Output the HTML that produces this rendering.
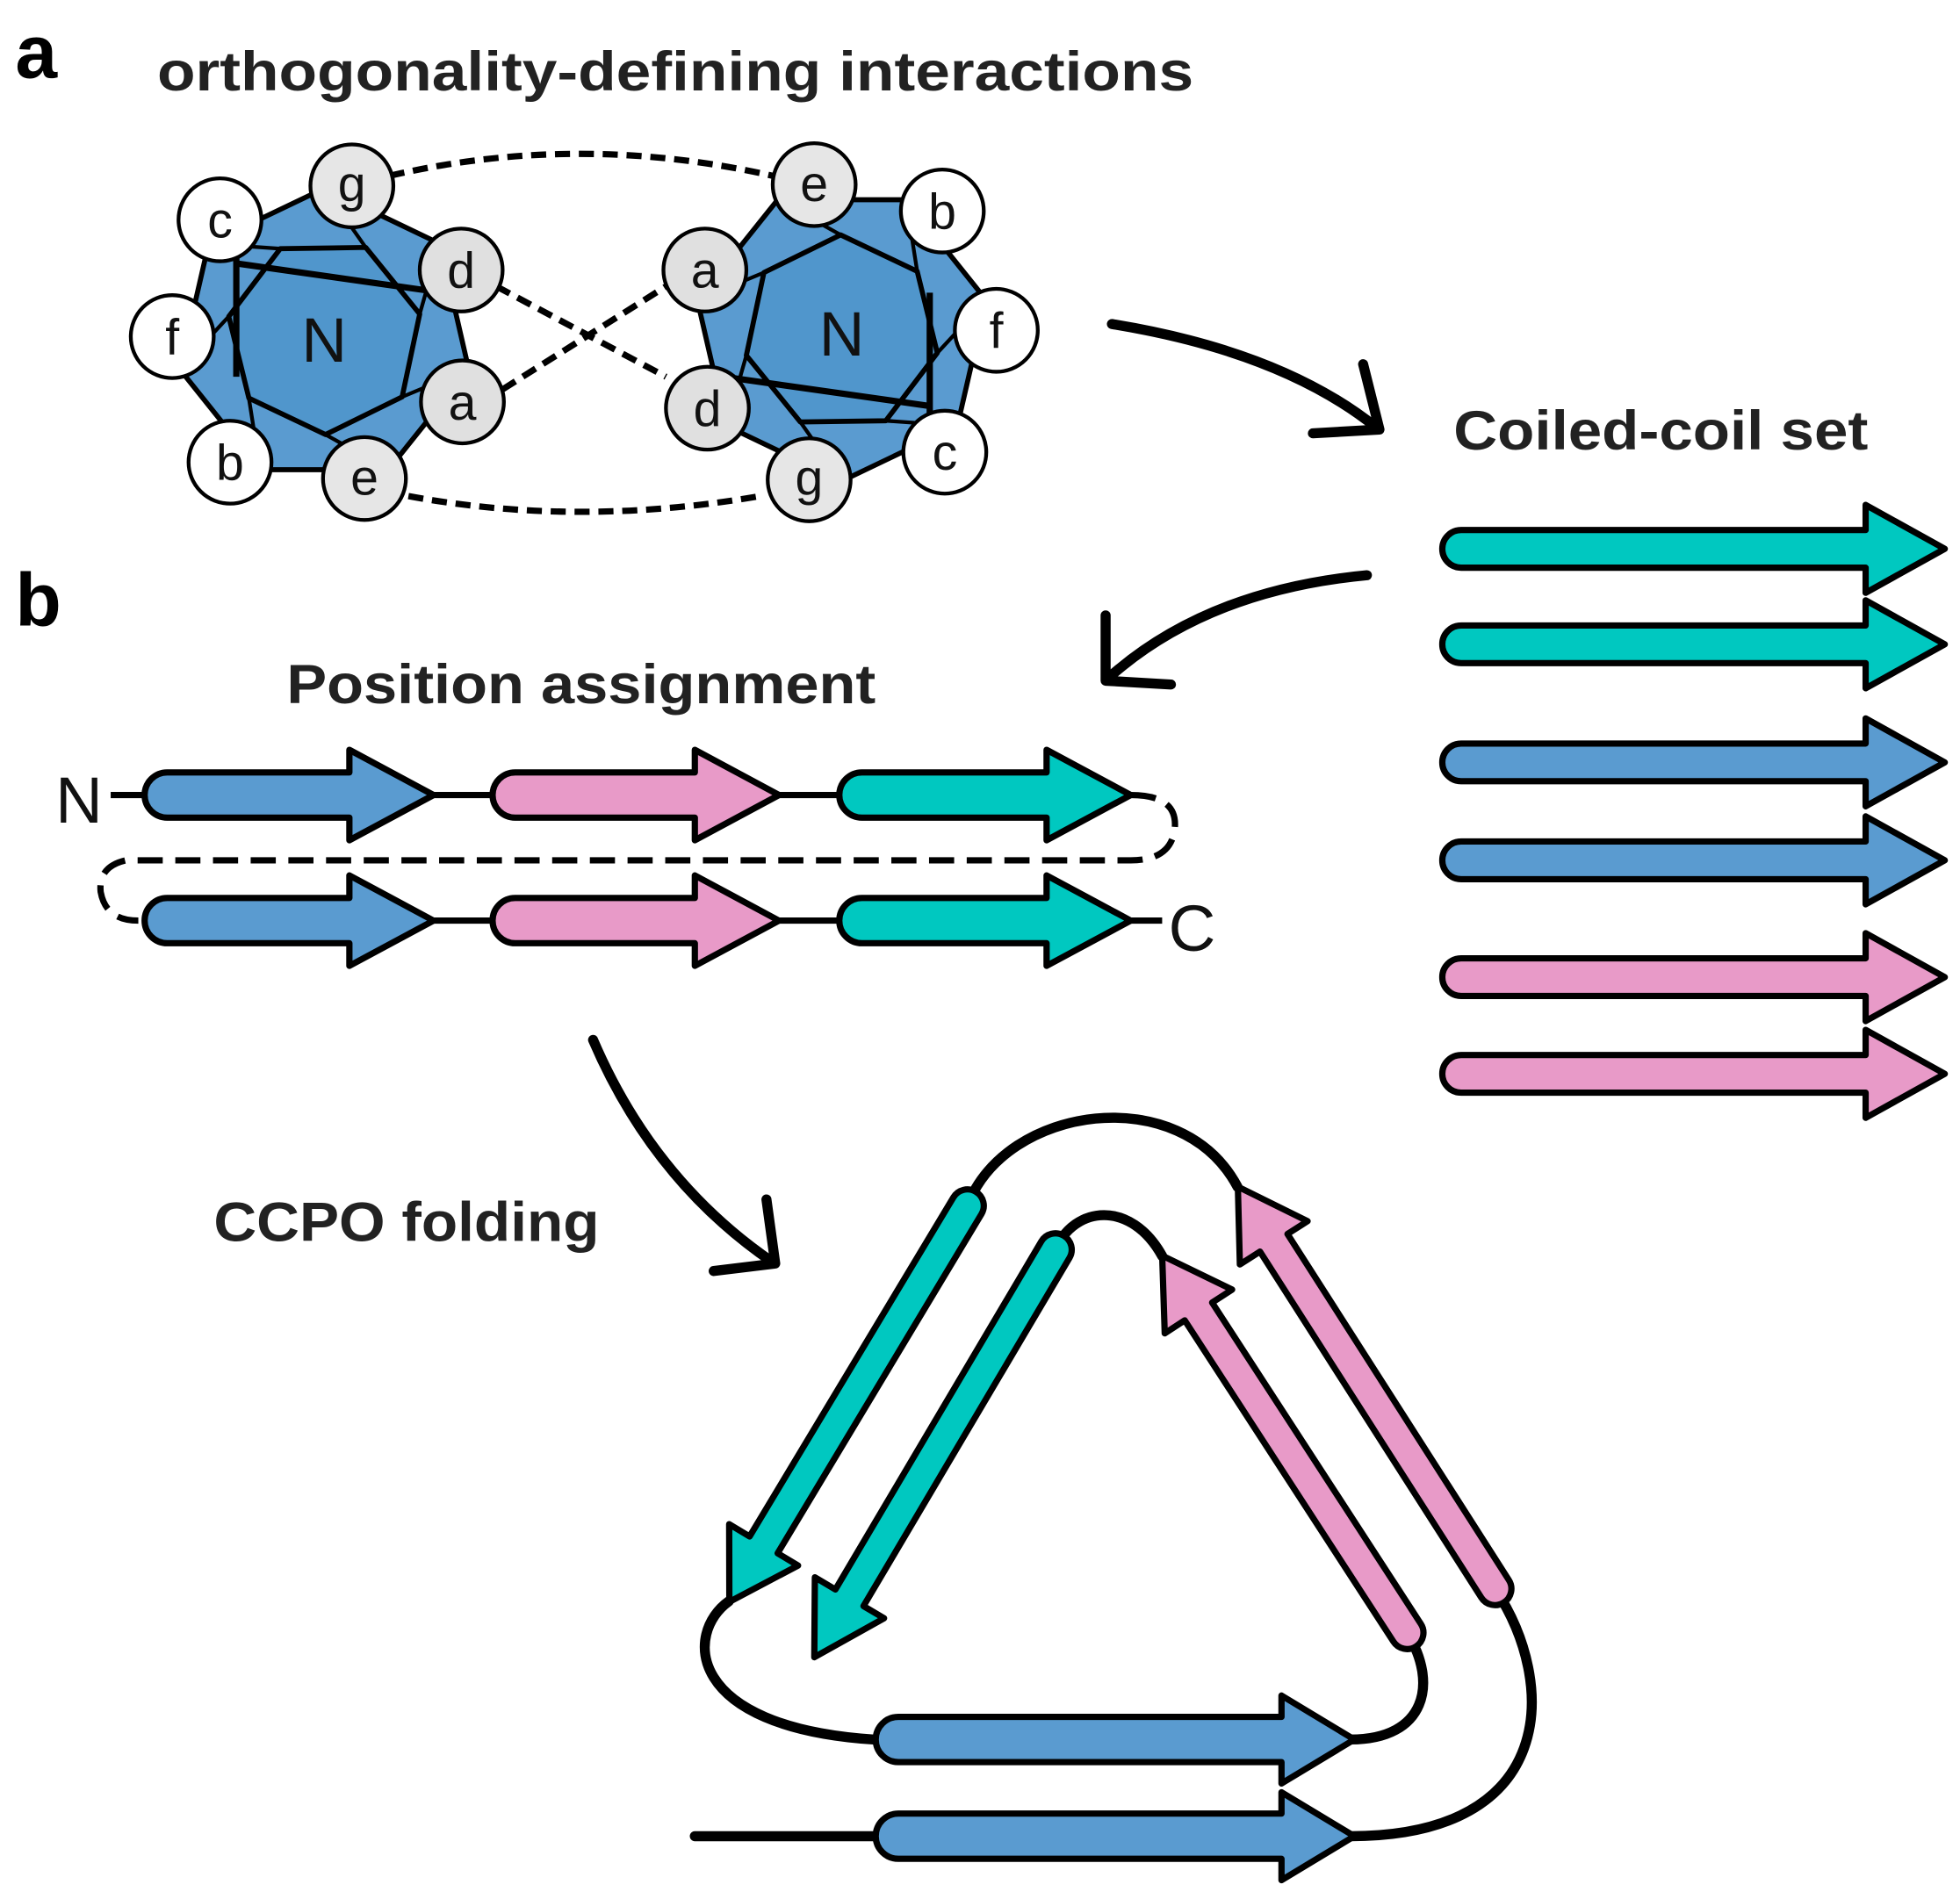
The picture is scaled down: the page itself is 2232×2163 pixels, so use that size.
<!DOCTYPE html>
<html><head><meta charset="utf-8"><style>
html,body{margin:0;padding:0;background:#fff;}
svg{display:block;}
text{font-family:"Liberation Sans","DejaVu Sans",sans-serif;}
</style></head><body>
<svg width="2232" height="2163" viewBox="0 0 1560 1512" xmlns="http://www.w3.org/2000/svg">
<text x="12" y="62" font-size="60" font-weight="bold">a</text>
<text x="12" y="498" font-size="60" font-weight="bold">b</text>
<g font-size="44" font-weight="bold" fill="#222" lengthAdjust="spacingAndGlyphs">
<text x="125" y="72" textLength="825" lengthAdjust="spacingAndGlyphs">orthogonality-defining interactions</text>
<text x="1157" y="358" textLength="330" lengthAdjust="spacingAndGlyphs">Coiled-coil set</text>
<text x="228" y="560" textLength="469" lengthAdjust="spacingAndGlyphs">Position assignment</text>
<text x="170" y="988" textLength="307" lengthAdjust="spacingAndGlyphs">CCPO folding</text>
</g>

<!-- dashed interactions -->
<g fill="none" stroke="#000" stroke-width="5" stroke-dasharray="12,7">
<path d="M310,140 Q460,105 615,140"/>
<path d="M325,395 Q460,420 605,395"/>
<path d="M395,228 L530,300"/>
<path d="M400,310 L530,228"/>
</g>

<!-- wheel body (left), reused rotated for right -->
<g id="wheel" stroke="#000" stroke-width="4" stroke-linejoin="round">
<polygon points="258,150 350,194 373,294 309,374 207,374 143,294 166,194" fill="#5a9bd0"/>
<polygon points="291,197 334,250 320,316 259,346 198,317 182,252 223,198" fill="#5096cc"/>
<g fill="none" stroke-width="3">
<line x1="291" y1="197" x2="258" y2="150"/><line x1="334" y1="250" x2="350" y2="194"/>
<line x1="320" y1="316" x2="373" y2="294"/><line x1="259" y1="346" x2="309" y2="374"/>
<line x1="198" y1="317" x2="207" y2="374"/><line x1="182" y1="252" x2="143" y2="294"/>
<line x1="223" y1="198" x2="166" y2="194"/>
</g>
<line x1="190" y1="210" x2="345" y2="232" stroke-width="5"/>
<line x1="188" y1="175" x2="188" y2="300" stroke-width="5"/>
</g>
<g transform="translate(928,533) rotate(180)">
<g stroke="#000" stroke-width="4" stroke-linejoin="round">
<polygon points="258,150 350,194 373,294 309,374 207,374 143,294 166,194" fill="#5a9bd0"/>
<polygon points="291,197 334,250 320,316 259,346 198,317 182,252 223,198" fill="#5096cc"/>
<g fill="none" stroke-width="3">
<line x1="291" y1="197" x2="258" y2="150"/><line x1="334" y1="250" x2="350" y2="194"/>
<line x1="320" y1="316" x2="373" y2="294"/><line x1="259" y1="346" x2="309" y2="374"/>
<line x1="198" y1="317" x2="207" y2="374"/><line x1="182" y1="252" x2="143" y2="294"/>
<line x1="223" y1="198" x2="166" y2="194"/>
</g>
<line x1="190" y1="210" x2="345" y2="232" stroke-width="5"/>
<line x1="188" y1="175" x2="188" y2="300" stroke-width="5"/>
</g>
</g>
<g stroke="#000" stroke-width="3">
<circle cx="175" cy="175" r="33" fill="#fff"/><circle cx="280" cy="148" r="33" fill="#e6e6e6"/>
<circle cx="367" cy="215" r="33" fill="#e0e0e0"/><circle cx="368" cy="320" r="33" fill="#e0e0e0"/>
<circle cx="290" cy="381" r="33" fill="#e6e6e6"/><circle cx="183" cy="368" r="33" fill="#fff"/>
<circle cx="137" cy="268" r="33" fill="#fff"/>
<circle cx="648" cy="147" r="33" fill="#e6e6e6"/><circle cx="750" cy="168" r="33" fill="#fff"/>
<circle cx="793" cy="263" r="33" fill="#fff"/><circle cx="752" cy="360" r="33" fill="#fff"/>
<circle cx="644" cy="382" r="33" fill="#e6e6e6"/><circle cx="563" cy="325" r="33" fill="#e0e0e0"/>
<circle cx="561" cy="215" r="33" fill="#e0e0e0"/>
</g>
<g font-size="40" text-anchor="middle" fill="#111">
<text x="175" y="189">c</text><text x="280" y="160">g</text><text x="367" y="229">d</text>
<text x="368" y="334">a</text><text x="290" y="394">e</text><text x="183" y="382">b</text>
<text x="137" y="282">f</text><text x="258" y="288" font-size="50">N</text>
<text x="648" y="160">e</text><text x="750" y="182">b</text><text x="793" y="277">f</text>
<text x="752" y="374">c</text><text x="644" y="394">g</text><text x="563" y="339">d</text>
<text x="561" y="229">a</text><text x="670" y="283" font-size="50">N</text>
</g>

<!-- curved arrows -->
<g fill="none" stroke="#000" stroke-width="8" stroke-linecap="round" stroke-linejoin="round">
<path d="M885,258 Q1020,280 1095,340"/><path d="M1085,290 L1098,342 L1045,345"/>
<path d="M1088,458 Q960,470 882,540"/><path d="M880,490 L880,542 L932,545"/>
<path d="M472,828 Q520,940 615,1005"/><path d="M610,955 L617,1006 L568,1012"/>
</g>

<!-- coiled-coil set -->
<g stroke="#000" stroke-width="5" stroke-linejoin="round">
<g fill="#00c8c0">
<path d="M1163,422 H1485 V402 L1548,437 L1485,472 V452 H1163 A15,15 0 0 1 1163,422 Z"/>
<path d="M1163,498 H1485 V478 L1548,513 L1485,548 V528 H1163 A15,15 0 0 1 1163,498 Z"/>
</g>
<g fill="#5a9bd0">
<path d="M1163,592 H1485 V572 L1548,607 L1485,642 V622 H1163 A15,15 0 0 1 1163,592 Z"/>
<path d="M1163,670 H1485 V650 L1548,685 L1485,720 V700 H1163 A15,15 0 0 1 1163,670 Z"/>
</g>
<g fill="#e89ac8">
<path d="M1163,763 H1485 V743 L1548,778 L1485,813 V793 H1163 A15,15 0 0 1 1163,763 Z"/>
<path d="M1163,840 H1485 V820 L1548,855 L1485,890 V870 H1163 A15,15 0 0 1 1163,840 Z"/>
</g>
</g>

<!-- position assignment -->
<g stroke="#000" stroke-width="5" fill="none">
<path d="M88,633 H115 M340,633 H395 M615,633 H670 M340,733 H395 M615,733 H670 M895,733 H925"/>
<path d="M900,633 Q938,633 935,660 Q932,685 900,685 H100 Q78,690 80,710 Q84,733 110,733" stroke-dasharray="20,10"/>
</g>
<g stroke="#000" stroke-width="5" stroke-linejoin="round">
<g fill="#5a9bd0">
<path d="M133,615 H278 V597 L345,633 L278,669 V651 H133 A18,18 0 0 1 133,615 Z"/>
<path d="M133,715 H278 V697 L345,733 L278,769 V751 H133 A18,18 0 0 1 133,715 Z"/>
</g>
<g fill="#e89ac8">
<path d="M410,615 H553 V597 L620,633 L553,669 V651 H410 A18,18 0 0 1 410,615 Z"/>
<path d="M410,715 H553 V697 L620,733 L553,769 V751 H410 A18,18 0 0 1 410,715 Z"/>
</g>
<g fill="#00c8c0">
<path d="M686,615 H833 V597 L900,633 L833,669 V651 H686 A18,18 0 0 1 686,615 Z"/>
<path d="M686,715 H833 V697 L900,733 L833,769 V751 H686 A18,18 0 0 1 686,715 Z"/>
</g>
</g>
<text x="44" y="655" font-size="52" fill="#111">N</text>
<text x="930" y="757" font-size="52" fill="#111">C</text>

<!-- CCPO triangle loops -->
<g fill="none" stroke="#000" stroke-width="8" stroke-linecap="round">
<path d="M770,960 C800,880 940,860 985,945"/>
<path d="M840,995 C855,960 900,955 925,1000"/>
<path d="M580,1275 C545,1300 545,1375 695,1385"/>
<path d="M1120,1300 C1145,1340 1135,1385 1075,1385"/>
<path d="M1190,1265 C1240,1340 1240,1462 1075,1462"/>
<path d="M553,1462 H700"/>
</g>
<g stroke="#000" stroke-width="5" stroke-linejoin="round">
<g transform="translate(770,960) rotate(121)"><path d="M0,-13 H315 V-32 L368,0 L315,32 V13 H0 A13,13 0 0 1 0,-13 Z" fill="#00c8c0"/></g>
<g transform="translate(840,995) rotate(120.6)"><path d="M0,-13 H322 V-32 L377,0 L322,32 V13 H0 A13,13 0 0 1 0,-13 Z" fill="#00c8c0"/></g>
<g transform="translate(1120,1300) rotate(-123)"><path d="M0,-13 H305 V-32 L358,0 L305,32 V13 H0 A13,13 0 0 1 0,-13 Z" fill="#e89ac8"/></g>
<g transform="translate(1190,1265) rotate(-122.6)"><path d="M0,-13 H327 V-32 L380,0 L327,32 V13 H0 A13,13 0 0 1 0,-13 Z" fill="#e89ac8"/></g>
<g fill="#5a9bd0">
<path d="M715,1367 H1020 V1350 L1078,1385 L1020,1420 V1403 H715 A18,18 0 0 1 715,1367 Z"/>
<path d="M715,1444 H1020 V1427 L1078,1462 L1020,1497 V1480 H715 A18,18 0 0 1 715,1444 Z"/>
</g>
</g>
</svg>
</body></html>
